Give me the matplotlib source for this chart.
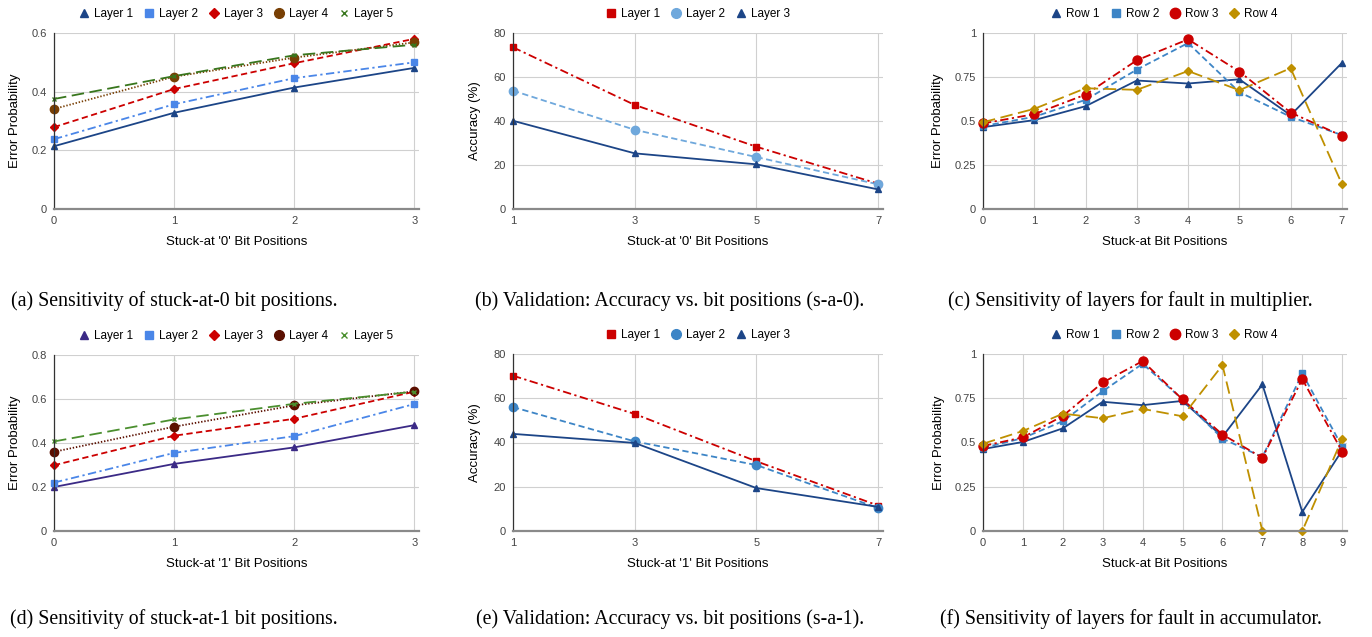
import matplotlib
matplotlib.use("Agg")
import matplotlib.pyplot as plt
from matplotlib.lines import Line2D

plt.rcParams['font.family'] = ['Liberation Sans', 'DejaVu Sans']
plt.rcParams['lines.scale_dashes'] = False

# ---------------- data ----------------
# (a) stuck-at-0 sensitivity
a_x = [0, 1, 2, 3]
a_layer1 = [0.214, 0.328, 0.414, 0.481]
a_layer2 = [0.238, 0.357, 0.446, 0.500]
a_layer3 = [0.279, 0.409, 0.497, 0.580]
a_layer4 = [0.341, 0.451, 0.516, 0.568]
a_layer5 = [0.375, 0.453, 0.524, 0.560]

# (b) validation accuracy s-a-0
b_x = [1, 3, 5, 7]
b_layer1 = [73.5, 47.3, 28.3, 11.5]
b_layer2 = [53.8, 36.0, 23.6, 11.2]
b_layer3 = [40.1, 25.3, 20.3, 8.9]

# (c) fault in multiplier
c_x = [0, 1, 2, 3, 4, 5, 6, 7]
c_row1 = [0.465, 0.505, 0.584, 0.730, 0.713, 0.737, 0.533, 0.830]
c_row2 = [0.471, 0.524, 0.620, 0.792, 0.943, 0.664, 0.524, 0.420]
c_row3 = [0.486, 0.539, 0.650, 0.845, 0.964, 0.781, 0.548, 0.416]
c_row4 = [0.493, 0.569, 0.686, 0.677, 0.784, 0.675, 0.800, 0.142]

# (d) stuck-at-1 sensitivity
d_x = [0, 1, 2, 3]
d_layer1 = [0.200, 0.305, 0.380, 0.481]
d_layer2 = [0.220, 0.355, 0.431, 0.577]
d_layer3 = [0.299, 0.433, 0.510, 0.633]
d_layer4 = [0.360, 0.474, 0.571, 0.635]
d_layer5 = [0.407, 0.507, 0.578, 0.633]

# (e) validation accuracy s-a-1
e_x = [1, 3, 5, 7]
e_layer1 = [70.2, 52.9, 31.5, 11.5]
e_layer2 = [56.0, 40.5, 29.8, 10.4]
e_layer3 = [43.9, 39.8, 19.4, 10.9]

# (f) fault in accumulator
f_x = [0, 1, 2, 3, 4, 5, 6, 7, 8, 9]
f_row1 = [0.463, 0.503, 0.580, 0.730, 0.711, 0.735, 0.533, 0.828, 0.108, 0.456]
f_row2 = [0.469, 0.525, 0.620, 0.790, 0.945, 0.743, 0.522, 0.418, 0.890, 0.476]
f_row3 = [0.480, 0.529, 0.650, 0.839, 0.960, 0.743, 0.545, 0.414, 0.858, 0.448]
f_row4 = [0.493, 0.565, 0.663, 0.637, 0.690, 0.648, 0.937, 0.0, 0.0, 0.522]

layer_names5 = ["Layer 1", "Layer 2", "Layer 3", "Layer 4", "Layer 5"]
layer_names3 = ["Layer 1", "Layer 2", "Layer 3"]
row_names = ["Row 1", "Row 2", "Row 3", "Row 4"]

captions = [
    "(a) Sensitivity of stuck-at-0 bit positions.",
    "(b) Validation: Accuracy vs. bit positions (s-a-0).",
    "(c) Sensitivity of layers for fault in multiplier.",
    "(d) Sensitivity of stuck-at-1 bit positions.",
    "(e) Validation: Accuracy vs. bit positions (s-a-1).",
    "(f) Sensitivity of layers for fault in accumulator.",
]

# ---------------- styles ----------------
SOLID = '-'
DASHDOT = (0, (6, 2.5, 1.6, 2.5))
DASHED = (0, (4.5, 2.5))
DOTTED = (0, (1.0, 1.3))
LONGDASH = (0, (9, 4))

W, H = 1372, 637
fig = plt.figure(figsize=(W / 100, H / 100), dpi=100)


def add_ax(l, t, r, b):
    return fig.add_axes([l / W, 1 - b / H, (r - l) / W, (b - t) / H])


def style_ax(ax, xlim, xticks, ylim, yticks, yticklabels, xlabel, ylabel,
             ylab_x_px, ax_left_px, ax_w_px):
    ax.set_xlim(*xlim)
    ax.set_ylim(*ylim)
    ax.set_xticks(xticks)
    ax.set_yticks(yticks)
    ax.set_yticklabels(yticklabels)
    ax.grid(True, color='#d0d0d0', linewidth=0.8)
    ax.set_axisbelow(True)
    for s in ['top', 'right']:
        ax.spines[s].set_visible(False)
    ax.spines['left'].set_color('#333333')
    ax.spines['left'].set_linewidth(0.9)
    ax.spines['bottom'].set_color('#8a8a8a')
    ax.spines['bottom'].set_linewidth(1.6)
    ax.tick_params(length=0, labelsize=8, labelcolor='#444444', pad=5)
    ax.set_xlabel(xlabel, fontsize=9.5, va='center')
    ax.xaxis.set_label_coords(0.5, -33 / 176)
    ax.set_ylabel(ylabel, fontsize=9.5, va='center')
    ax.yaxis.set_label_coords((ylab_x_px - ax_left_px) / ax_w_px, 0.5)


def add_legend(ax, handles, labels, y_off_px, ax_h_px=176):
    ax.legend(handles, labels, loc='center', bbox_to_anchor=(0.5, 1 + y_off_px / ax_h_px),
              ncol=len(labels), frameon=False, fontsize=8.5, handlelength=0.7,
              handletextpad=0.5, columnspacing=1.0, borderaxespad=0)


def mk(marker, color, ms):
    return Line2D([], [], linestyle='', marker=marker, color=color, markersize=ms)


def line(ax, x, y, color, ls, marker, ms, **kw):
    ax.plot(x, y, color=color, ls=ls, lw=LW, marker=marker, ms=ms, clip_on=False, **kw)


LW = 1.3

# ---------- (a) ----------
ax = add_ax(54, 33, 419, 209)
cols_a = ['#1c4587', '#4a86e8', '#cc0000', '#783f04', '#38761d']
line(ax, a_x, a_layer1, cols_a[0], SOLID, '^', 4)
line(ax, a_x, a_layer2, cols_a[1], DASHDOT, 's', 4)
line(ax, a_x, a_layer3, cols_a[2], DASHED, 'D', 3.8)
line(ax, a_x, a_layer4, cols_a[3], DOTTED, 'o', 6)
line(ax, a_x, a_layer5, cols_a[4], LONGDASH, 'x', 3.5, mew=1)
style_ax(ax, (0, 3.04), a_x, (0, 0.6), [0, 0.2, 0.4, 0.6], ['0', '0.2', '0.4', '0.6'],
         "Stuck-at '0' Bit Positions", "Error Probability", 15, 54, 365)
add_legend(ax, [mk('^', cols_a[0], 5.5), mk('s', cols_a[1], 5.5), mk('D', cols_a[2], 5),
                mk('o', cols_a[3], 7), mk('x', cols_a[4], 4.5)], layer_names5, 19)

# ---------- (b) ----------
ax = add_ax(513, 33, 883, 209)
cols_b = ['#cc0000', '#6fa8dc', '#1c4587']
line(ax, b_x, b_layer1, cols_b[0], DASHDOT, 's', 4.5)
line(ax, b_x, b_layer2, cols_b[1], DASHED, 'o', 6)
line(ax, b_x, b_layer3, cols_b[2], SOLID, '^', 4)
style_ax(ax, (1, 7.08), b_x, (0, 80), [0, 20, 40, 60, 80], ['0', '20', '40', '60', '80'],
         "Stuck-at '0' Bit Positions", "Accuracy (%)", 475, 513, 370)
add_legend(ax, [mk('s', cols_b[0], 5.5), mk('o', cols_b[1], 7), mk('^', cols_b[2], 5.5)],
           layer_names3, 19)

# ---------- (c) ----------
ax = add_ax(983, 33, 1347, 209)
cols_c = ['#1c4587', '#3d85c6', '#cc0000', '#bf9000']
line(ax, c_x, c_row1, cols_c[0], SOLID, '^', 4)
line(ax, c_x, c_row2, cols_c[1], DASHED, 's', 4)
line(ax, c_x, c_row3, cols_c[2], DASHDOT, 'o', 6.5)
line(ax, c_x, c_row4, cols_c[3], LONGDASH, 'D', 4)
style_ax(ax, (0, 7.1), c_x, (0, 1), [0, 0.25, 0.5, 0.75, 1], ['0', '0.25', '0.5', '0.75', '1'],
         "Stuck-at Bit Positions", "Error Probability", 938, 983, 364)
add_legend(ax, [mk('^', cols_c[0], 5.5), mk('s', cols_c[1], 5.5), mk('o', cols_c[2], 7.5),
                mk('D', cols_c[3], 5)], row_names, 19)

# ---------- (d) ----------
ax = add_ax(54, 355, 419, 531)
cols_d = ['#3b2a86', '#4a86e8', '#cc0000', '#5b0f00', '#4b8f2f']
line(ax, d_x, d_layer1, cols_d[0], SOLID, '^', 4)
line(ax, d_x, d_layer2, cols_d[1], DASHDOT, 's', 4)
line(ax, d_x, d_layer3, cols_d[2], DASHED, 'D', 3.8)
line(ax, d_x, d_layer4, cols_d[3], DOTTED, 'o', 6)
line(ax, d_x, d_layer5, cols_d[4], LONGDASH, 'x', 3.5, mew=1)
style_ax(ax, (0, 3.04), d_x, (0, 0.8), [0, 0.2, 0.4, 0.6, 0.8],
         ['0', '0.2', '0.4', '0.6', '0.8'],
         "Stuck-at '1' Bit Positions", "Error Probability", 15, 54, 365)
add_legend(ax, [mk('^', cols_d[0], 5.5), mk('s', cols_d[1], 5.5), mk('D', cols_d[2], 5),
                mk('o', cols_d[3], 7), mk('x', cols_d[4], 4.5)], layer_names5, 19)

# ---------- (e) ----------
ax = add_ax(513, 354, 883, 531)
cols_e = ['#cc0000', '#3d85c6', '#1c4587']
line(ax, e_x, e_layer1, cols_e[0], DASHDOT, 's', 4.5)
line(ax, e_x, e_layer2, cols_e[1], DASHED, 'o', 6)
line(ax, e_x, e_layer3, cols_e[2], SOLID, '^', 4)
style_ax(ax, (1, 7.08), e_x, (0, 80), [0, 20, 40, 60, 80], ['0', '20', '40', '60', '80'],
         "Stuck-at '1' Bit Positions", "Accuracy (%)", 475, 513, 370)
add_legend(ax, [mk('s', cols_e[0], 5.5), mk('o', cols_e[1], 7), mk('^', cols_e[2], 5.5)],
           layer_names3, 19)

# ---------- (f) ----------
ax = add_ax(983, 354, 1347, 531)
line(ax, f_x, f_row1, cols_c[0], SOLID, '^', 4)
line(ax, f_x, f_row2, cols_c[1], DASHED, 's', 4)
line(ax, f_x, f_row3, cols_c[2], DASHDOT, 'o', 6.5)
line(ax, f_x, f_row4, cols_c[3], LONGDASH, 'D', 4)
style_ax(ax, (0, 9.12), f_x, (0, 1), [0, 0.25, 0.5, 0.75, 1], ['0', '0.25', '0.5', '0.75', '1'],
         "Stuck-at Bit Positions", "Error Probability", 939, 983, 364)
add_legend(ax, [mk('^', cols_c[0], 5.5), mk('s', cols_c[1], 5.5), mk('o', cols_c[2], 7.5),
                mk('D', cols_c[3], 5)], row_names, 19)

# ---------- captions ----------
cap_pos = [(174, 301), (670, 301), (1130, 301), (174, 619), (670, 619), (1131, 619)]
for txt, (cx, cy) in zip(captions, cap_pos):
    fig.text(cx / W, 1 - cy / H, txt, ha='center', va='center', fontsize=14.3,
             family=['Liberation Serif', 'DejaVu Serif'])

fig.savefig("out.png", dpi=100)
